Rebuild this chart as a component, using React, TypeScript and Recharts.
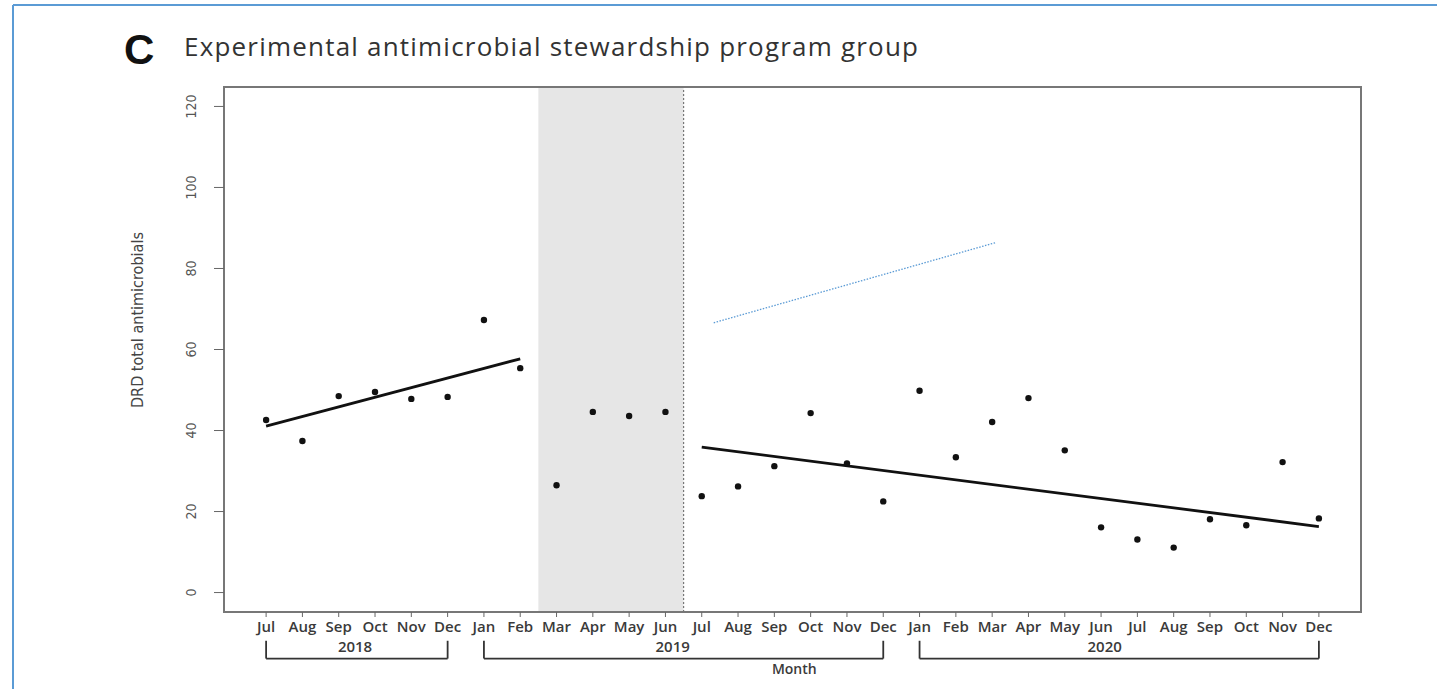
import React from 'react';
import {
  ComposedChart,
  Scatter,
  Line,
  XAxis,
  YAxis,
  ReferenceArea,
  ReferenceLine,
  ReferenceDot,
} from 'recharts';

// month index 0 = Jul 2018 ... 29 = Dec 2020
const months = [
  'Jul', 'Aug', 'Sep', 'Oct', 'Nov', 'Dec',
  'Jan', 'Feb', 'Mar', 'Apr', 'May', 'Jun', 'Jul', 'Aug', 'Sep', 'Oct', 'Nov', 'Dec',
  'Jan', 'Feb', 'Mar', 'Apr', 'May', 'Jun', 'Jul', 'Aug', 'Sep', 'Oct', 'Nov', 'Dec',
];
const drdValues = [
  42.6, 37.4, 48.5, 49.5, 47.8, 48.3,
  67.3, 55.4, 26.5, 44.6, 43.6, 44.6, 23.8, 26.2, 31.2, 44.3, 31.9, 22.5,
  49.8, 33.4, 42.1, 48.0, 35.1, 16.1, 13.1, 11.1, 18.1, 16.6, 32.2, 18.3,
];

// fitted segments
const preIdx = [0, 7];
const preFit = [41.1, 57.7];
const postIdx = [12, 29];
const postFit = [35.9, 16.3];

// stray blue dotted annotation line
const annoIdx = [12.33, 20.1];
const annoVal = [66.6, 86.4];

const yTicks = [0, 20, 40, 60, 80, 100, 120];
const years = ['2018', '2019', '2020'];
const yearStart = [0, 6, 18];
const yearEnd = [5, 17, 29];
const yearLabelAt = [2.45, 11.2, 23.1];
const washoutFrom = 7.5;
const washoutTo = 11.5;

const points = drdValues.map((v, i) => ({ x: i, y: v }));
const preLine = preIdx.map((x, i) => ({ x, y: preFit[i] }));
const postLine = postIdx.map((x, i) => ({ x, y: postFit[i] }));
const annoLine = annoIdx.map((x, i) => ({ x, y: annoVal[i] }));

const X_DOMAIN: [number, number] = [-1.16, 30.16];
const Y_DOMAIN: [number, number] = [-4.8, 124.8];

const BR_TOP = -11.9;
const BR_BOT = -16.3;
const LABEL_FONT = "'Open Sans', sans-serif";
const NARROW = "'Liberation Sans Narrow', 'DejaVu Sans Condensed', 'Liberation Sans', sans-serif";

const YTick = (props: any) => {
  const { x, y, payload } = props;
  const cx = x - 21;
  return (
    <text
      x={cx}
      y={y}
      transform={`rotate(-90, ${cx}, ${y})`}
      textAnchor="middle"
      dominantBaseline="central"
      fontSize={14}
      fontFamily={NARROW}
      fill="#555"
    >
      {payload.value}
    </text>
  );
};

const Dot = (props: any) => <circle cx={props.cx} cy={props.cy} r={3.2} fill="#111" />;

export default function App() {
  return (
    <div style={{ position: 'absolute', left: 0, top: 0, width: 1437, height: 689, background: '#fff' }}>
      <div style={{ position: 'absolute', left: 0, top: 0 }}>
        <ComposedChart
          width={1437}
          height={689}
          margin={{ top: 87, right: 76, bottom: 37, left: 164 }}
        >
          <XAxis
            type="number"
            dataKey="x"
            domain={X_DOMAIN}
            allowDataOverflow
            ticks={months.map((_, i) => i)}
            interval={0}
            tickFormatter={(i: number) => months[i]}
            axisLine={false}
            tickLine={{ stroke: '#666' }}
            tickSize={5}
            tickMargin={4}
            height={40}
            tick={{ fontSize: 15, fill: '#3a3a3a', fontFamily: LABEL_FONT, fontWeight: 600 }}
          />
          <YAxis
            type="number"
            dataKey="y"
            domain={Y_DOMAIN}
            allowDataOverflow
            ticks={yTicks}
            interval={0}
            axisLine={false}
            tickLine={{ stroke: '#666' }}
            tickSize={10}
            tickMargin={2}
            width={60}
            tick={<YTick />}
          />

          <ReferenceArea
            x1={washoutFrom}
            x2={washoutTo}
            y1={Y_DOMAIN[0]}
            y2={Y_DOMAIN[1]}
            fill="#e6e6e6"
            fillOpacity={1}
            stroke="none"
          />
          <ReferenceLine x={washoutTo} stroke="#777" strokeDasharray="2 2" strokeWidth={1.2} />
          <ReferenceArea
            x1={X_DOMAIN[0]}
            x2={X_DOMAIN[1]}
            y1={Y_DOMAIN[0]}
            y2={Y_DOMAIN[1]}
            fill="none"
            stroke="#777"
            strokeWidth={2}
          />

          {years.map((yr, k) => (
            <React.Fragment key={yr}>
              <ReferenceLine
                segment={[{ x: yearStart[k], y: BR_TOP }, { x: yearStart[k], y: BR_BOT }]}
                stroke="#333"
                strokeWidth={1.8}
                ifOverflow="visible"
              />
              <ReferenceLine
                segment={[{ x: yearStart[k], y: BR_BOT }, { x: yearEnd[k], y: BR_BOT }]}
                stroke="#333"
                strokeWidth={1.8}
                ifOverflow="visible"
              />
              <ReferenceLine
                segment={[{ x: yearEnd[k], y: BR_TOP }, { x: yearEnd[k], y: BR_BOT }]}
                stroke="#333"
                strokeWidth={1.8}
                ifOverflow="visible"
              />
              <ReferenceDot
                x={yearLabelAt[k]}
                y={-13.4}
                r={0}
                fill="none"
                stroke="none"
                ifOverflow="visible"
                label={{ value: yr, position: 'center', fontSize: 15, fill: '#3a3a3a', fontFamily: LABEL_FONT, fontWeight: 600 }}
              />
            </React.Fragment>
          ))}
          <ReferenceDot
            x={14.55}
            y={-18.9}
            r={0}
            fill="none"
            stroke="none"
            ifOverflow="visible"
            label={{ value: 'Month', position: 'center', fontSize: 14, fill: '#3a3a3a', fontFamily: LABEL_FONT, fontWeight: 600 }}
          />

          <Line
            data={annoLine}
            dataKey="y"
            type="linear"
            stroke="#5b9bd5"
            strokeWidth={1.3}
            strokeDasharray="1.5 1.5"
            dot={false}
            activeDot={false}
            isAnimationActive={false}
          />
          <Line
            data={preLine}
            dataKey="y"
            type="linear"
            stroke="#111"
            strokeWidth={2.8}
            dot={false}
            activeDot={false}
            isAnimationActive={false}
          />
          <Line
            data={postLine}
            dataKey="y"
            type="linear"
            stroke="#111"
            strokeWidth={2.8}
            dot={false}
            activeDot={false}
            isAnimationActive={false}
          />
          <Scatter data={points} dataKey="y" shape={<Dot />} isAnimationActive={false} />
        </ComposedChart>
      </div>

      <svg
        width={1437}
        height={689}
        style={{ position: 'absolute', left: 0, top: 0, pointerEvents: 'none' }}
      >
        <line x1={13} y1={5} x2={1437} y2={5} stroke="#5b9bd5" strokeWidth={2} />
        <line x1={13} y1={5} x2={13} y2={689} stroke="#5b9bd5" strokeWidth={2} />
        <text x={124} y={64} fontSize={42} fontWeight="bold" fontFamily="'Liberation Sans', Arial, sans-serif" fill="#111">
          C
        </text>
        <text
          x={184}
          y={56}
          fontSize={26}
          fontFamily={LABEL_FONT}
          fill="#333"
          textLength={734}
          lengthAdjust="spacing"
        >
          Experimental antimicrobial stewardship program group
        </text>
        <text
          x={137}
          y={320}
          transform="rotate(-90, 137, 320)"
          textAnchor="middle"
          dominantBaseline="central"
          fontSize={16}
          fontFamily={NARROW}
          fill="#444"
          textLength={176}
          lengthAdjust="spacingAndGlyphs"
        >
          DRD total antimicrobials
        </text>
      </svg>
    </div>
  );
}
